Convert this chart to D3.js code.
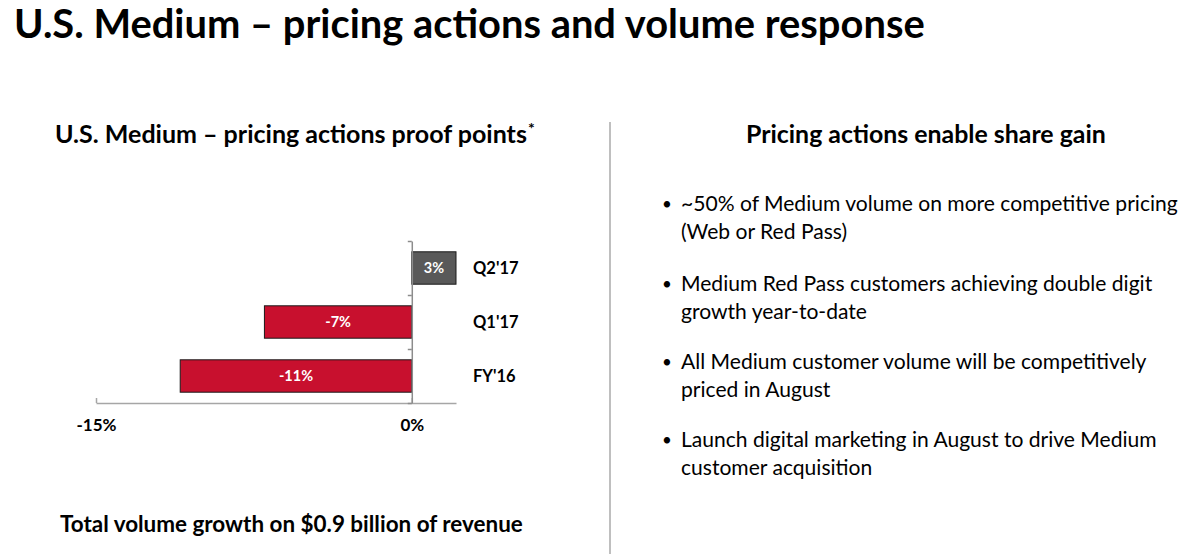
<!DOCTYPE html>
<html>
<head>
<meta charset="utf-8">
<script src="https://cdn.jsdelivr.net/npm/d3@7"></script>
<style>
  body { margin: 0; background: #fff; }
  svg { display: block; font-family: Lato, "Open Sans", sans-serif; }
</style>
</head>
<body>
<svg id="chart"></svg>
<script>
const width = 1190, height = 554;

// chart data
const categories = ["Q2'17", "Q1'17", "FY'16"];
const values = [3, -7, -11];
const barLabels = ["3%", "-7%", "-11%"];
const barColors = ["#595959", "#c8102e", "#c8102e"];
const xTicks = [-15, 0];

const bullets = [
	["~50% of Medium volume on more competitive pricing", "(Web or Red Pass)"],
	["Medium Red Pass customers achieving double digit", "growth year-to-date"],
	["All Medium customer volume will be competitively", "priced in August"],
	["Launch digital marketing in August to drive Medium", "customer acquisition"]
];

const svg = d3.select('#chart')
	.attr('width', width)
	.attr('height', height);

// shrink/grow a text so it spans the wanted width, returns the new size
const fitText = (sel, target) => {
	const fs = parseFloat(sel.attr('font-size'));
	const w = sel.node().getComputedTextLength();
	const nfs = +(fs * target / w).toFixed(2);
	sel.attr('font-size', nfs);
	return nfs;
};

const title = svg.append('text')
	.attr('x', 14).attr('y', 38)
	.attr('font-size', 34).attr('font-weight', 700)
	.attr('fill', '#000')
	.text('U.S. Medium – pricing actions and volume response');
fitText(title, 911);

// left heading
const leftHead = svg.append('text')
	.attr('x', 55).attr('y', 143)
	.attr('font-size', 20).attr('font-weight', 700)
	.text('U.S. Medium – pricing actions proof points');
fitText(leftHead, 472);
const lhEnd = 55 + leftHead.node().getComputedTextLength();
svg.append('text')
	.attr('x', lhEnd + 1).attr('y', 134)
	.attr('font-size', 16).attr('font-weight', 700)
	.text('*');

// right heading
const rightHead = svg.append('text')
	.attr('x', 746).attr('y', 143)
	.attr('font-size', 20).attr('font-weight', 700)
	.text('Pricing actions enable share gain');
fitText(rightHead, 360);

// divider
svg.append('line')
	.attr('x1', 610).attr('x2', 610)
	.attr('y1', 122).attr('y2', height)
	.attr('stroke', '#bfbfbf')
	.attr('stroke-width', 2);

// scales
const xScale = d3.scaleLinear()
	.domain([-15, 2.1])
	.range([96, 456])
	.clamp(true);

const yScale = d3.scaleBand()
	.domain(categories)
	.range([241, 403])
	.paddingInner(0.4)
	.paddingOuter(0.2);

const data = categories.map((c, i) => ({ cat: c, value: values[i], label: barLabels[i], color: barColors[i] }));

// bars
svg.selectAll('.bar')
	.data(data)
	.enter()
	.append('rect')
	.attr('class', 'bar')
	.attr('x', d => Math.min(xScale(d.value), xScale(0)))
	.attr('y', d => yScale(d.cat))
	.attr('width', d => Math.abs(xScale(d.value) - xScale(0)))
	.attr('height', yScale.bandwidth())
	.attr('fill', d => d.color)
	.attr('stroke', '#1a1a1a')
	.attr('stroke-width', 1);

svg.selectAll('.bar-label')
	.data(data)
	.enter()
	.append('text')
	.attr('class', 'bar-label')
	.attr('x', d => (xScale(d.value) + xScale(0)) / 2)
	.attr('y', d => yScale(d.cat) + yScale.bandwidth() / 2)
	.attr('dy', '0.36em')
	.attr('text-anchor', 'middle')
	.attr('font-size', 14.5)
	.attr('font-weight', 700)
	.attr('fill', '#fff')
	.text(d => d.label);

// x axis
const xAxis = svg.append('g')
	.attr('transform', `translate(0,${yScale.range()[1]})`)
	.call(d3.axisBottom(xScale)
		.tickValues(xTicks)
		.tickSize(-5)
		.tickSizeOuter(0)
		.tickPadding(16)
		.tickFormat(d => d + '%'));
xAxis.select('.domain').attr('stroke', '#a6a6a6').attr('stroke-width', 1.5);
xAxis.selectAll('.tick line').attr('stroke', '#a6a6a6').attr('stroke-width', 1.5);
xAxis.selectAll('.tick text')
	.attr('font-family', 'Lato, sans-serif')
	.attr('font-size', 17)
	.attr('font-weight', 700)
	.attr('fill', '#000');

// category axis at zero, ticks between bands
const edgeScale = d3.scaleLinear()
	.domain([0, categories.length])
	.range(yScale.range());
const yAxis = svg.append('g')
	.attr('transform', `translate(${xScale(0)},0)`)
	.call(d3.axisLeft(edgeScale)
		.ticks(categories.length)
		.tickSize(4)
		.tickSizeOuter(0)
		.tickFormat(''));
yAxis.select('.domain').attr('stroke', '#8c8c8c').attr('stroke-width', 1.5);
yAxis.selectAll('.tick line').attr('stroke', '#8c8c8c').attr('stroke-width', 1.5);

// category labels
svg.selectAll('.cat-label')
	.data(categories)
	.enter()
	.append('text')
	.attr('class', 'cat-label')
	.attr('x', 473)
	.attr('y', d => yScale(d) + yScale.bandwidth() / 2)
	.attr('dy', '0.36em')
	.attr('font-size', 16.5)
	.attr('font-weight', 700)
	.text(d => d);

// footer
const foot = svg.append('text')
	.attr('x', 60).attr('y', 532)
	.attr('font-size', 18).attr('font-weight', 700)
	.text('Total volume growth on $0.9 billion of revenue');
fitText(foot, 463);

// bullets: size set from the first line, used for all
const probe = svg.append('text')
	.attr('font-size', 19)
	.text(bullets[0][0]);
const bulletSize = fitText(probe, 497);
probe.remove();

const bulletTops = [211, 291, 369, 447];
const lineGap = 27.5;
bullets.forEach((lines, i) => {
	svg.append('text')
		.attr('x', 662).attr('y', bulletTops[i] - 1)
		.attr('font-size', 17)
		.text('•');
	lines.forEach((t, j) => {
		svg.append('text')
			.attr('x', 681)
			.attr('y', bulletTops[i] + j * lineGap)
			.attr('font-size', bulletSize)
			.attr('fill', '#000')
			.text(t);
	});
});
</script>
</body>
</html>
